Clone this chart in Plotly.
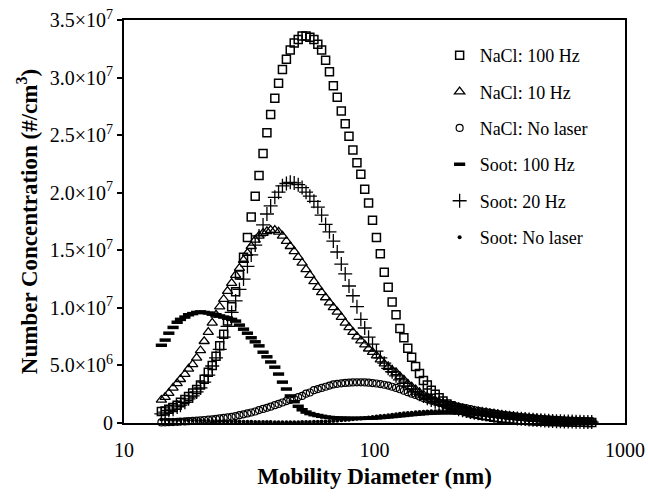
import plotly.graph_objects as go

# Mobility diameter channels (nm), 64 channels per decade
diameter_nm = [
    14.1, 14.6, 15.1, 15.7, 16.3, 16.8, 17.5, 18.1, 18.8, 19.5,
    20.2, 20.9, 21.7, 22.5, 23.3, 24.1, 25.0, 25.9, 26.9, 27.9,
    28.9, 30.0, 31.1, 32.2, 33.4, 34.6, 35.9, 37.2, 38.5, 40.0,
    41.4, 42.9, 44.5, 46.1, 47.8, 49.6, 51.4, 53.3, 55.2, 57.3,
    59.4, 61.5, 63.8, 66.1, 68.5, 71.0, 73.7, 76.4, 79.1, 82.0,
    85.1, 88.2, 91.4, 94.7, 98.2, 101.8, 105.5, 109.4, 113.4, 117.6,
    121.9, 126.3, 131.0, 135.8, 140.7, 145.9, 151.2, 156.8, 162.5, 168.5,
    174.7, 181.1, 187.7, 194.6, 201.7, 209.1, 216.7, 224.7, 232.9, 241.4,
    250.3, 259.5, 269.0, 278.8, 289.0, 299.6, 310.6, 322.0, 333.8, 346.0,
    358.7, 371.8, 385.4, 399.5, 414.2, 429.4, 445.1, 461.4, 478.3, 495.8,
    514.0, 532.8, 552.3, 572.5, 593.5, 615.3, 637.8, 661.2, 685.4, 710.5,
    736.5,
]

# Number concentrations in units of 10^6 #/cm3
nacl_100hz = [
    1.0, 1.05, 1.2, 1.35, 1.55, 1.8, 2.05, 2.3, 2.6, 2.9,
    3.3, 3.8, 4.4, 5.0, 5.8, 6.7, 7.7, 8.85, 10.1, 11.4,
    12.85, 14.4, 16.1, 17.9, 19.7, 21.5, 23.4, 25.2, 26.8, 28.2,
    29.5, 30.7, 31.6, 32.4, 33.0, 33.3, 33.6, 33.6, 33.5, 33.3,
    32.9, 32.4, 31.5, 30.5, 29.3, 28.3, 27.1, 26.0, 24.9, 23.7,
    22.6, 21.6, 20.3, 19.1, 17.6, 16.1, 14.7, 13.1, 11.8, 10.5,
    9.4, 8.2, 7.4, 6.5, 5.7, 4.9, 4.3, 3.7, 3.3, 2.85,
    2.5, 2.2, 1.9, 1.65, 1.5, 1.35, 1.2, 1.1, 1.0, 0.9,
    0.82, 0.75, 0.68, 0.62, 0.56, 0.5, 0.46, 0.42, 0.38, 0.35,
    0.32, 0.29, 0.26, 0.24, 0.22, 0.2, 0.18, 0.16, 0.15, 0.14,
    0.13, 0.12, 0.11, 0.1, 0.09, 0.08, 0.07, 0.06, 0.06, 0.05,
    0.05,
]

nacl_10hz = [
    2.0, 2.25, 2.6, 3.05, 3.45, 3.8, 4.25, 4.7, 5.1, 5.65,
    6.3, 7.1, 7.9, 8.7, 9.4, 10.1, 10.75, 11.45, 12.15, 12.85,
    13.45, 14.15, 14.75, 15.35, 15.9, 16.25, 16.5, 16.65, 16.75, 16.75,
    16.6, 16.25, 15.8, 15.35, 14.9, 14.4, 13.9, 13.35, 12.85, 12.3,
    11.8, 11.35, 10.9, 10.45, 10.05, 9.65, 9.2, 8.7, 8.3, 7.9,
    7.5, 7.15, 6.8, 6.45, 6.15, 5.85, 5.5, 5.15, 4.85, 4.6,
    4.4, 4.05, 3.75, 3.4, 3.15, 2.9, 2.65, 2.45, 2.25, 2.1,
    1.95, 1.8, 1.65, 1.5, 1.4, 1.3, 1.22, 1.15, 1.1, 1.0,
    0.95, 0.9, 0.87, 0.83, 0.78, 0.74, 0.7, 0.66, 0.62, 0.58,
    0.54, 0.5, 0.46, 0.43, 0.4, 0.37, 0.34, 0.31, 0.28, 0.26,
    0.24, 0.22, 0.2, 0.18, 0.16, 0.15, 0.14, 0.13, 0.12, 0.11,
    0.1,
]

nacl_no_laser = [
    0.05, 0.06, 0.07, 0.08, 0.1, 0.12, 0.14, 0.16, 0.18, 0.2,
    0.23, 0.26, 0.29, 0.32, 0.36, 0.4, 0.44, 0.49, 0.54, 0.6,
    0.68, 0.75, 0.83, 0.91, 1.0, 1.12, 1.22, 1.32, 1.42, 1.55,
    1.66, 1.78, 1.9, 2.0, 2.1, 2.25, 2.35, 2.55, 2.65, 2.85,
    2.95, 3.05, 3.15, 3.25, 3.35, 3.4, 3.45, 3.48, 3.5, 3.52,
    3.53, 3.53, 3.52, 3.5, 3.47, 3.43, 3.38, 3.32, 3.25, 3.15,
    3.05, 2.93, 2.8, 2.68, 2.55, 2.43, 2.3, 2.18, 2.06, 1.95,
    1.85, 1.77, 1.69, 1.61, 1.54, 1.47, 1.4, 1.34, 1.28, 1.2,
    1.13, 1.06, 1.0, 0.94, 0.88, 0.83, 0.78, 0.73, 0.68, 0.64,
    0.6, 0.56, 0.52, 0.48, 0.45, 0.42, 0.39, 0.36, 0.33, 0.31,
    0.29, 0.27, 0.25, 0.23, 0.21, 0.2, 0.19, 0.18, 0.17, 0.16,
    0.15,
]

soot_100hz = [
    6.75, 7.2, 7.8, 8.3, 8.75, 9.0, 9.2, 9.4, 9.5, 9.6,
    9.65, 9.6, 9.55, 9.45, 9.4, 9.3, 9.2, 9.1, 9.0, 8.85,
    8.5, 8.15, 7.8, 7.4, 7.05, 6.7, 6.15, 5.75, 5.3, 4.85,
    4.25, 3.55, 2.95, 2.35, 1.85, 1.45, 1.15, 0.95, 0.82, 0.72,
    0.65, 0.58, 0.52, 0.48, 0.45, 0.43, 0.42, 0.41, 0.4, 0.4,
    0.4, 0.4, 0.41, 0.42, 0.43, 0.45, 0.47, 0.5, 0.53, 0.56,
    0.6, 0.63, 0.66, 0.7, 0.73, 0.76, 0.79, 0.82, 0.84, 0.86,
    0.88, 0.89, 0.9, 0.9, 0.9, 0.89, 0.88, 0.86, 0.84, 0.81,
    0.78, 0.75, 0.72, 0.68, 0.64, 0.6, 0.56, 0.52, 0.48, 0.44,
    0.41, 0.38, 0.35, 0.32, 0.29, 0.27, 0.25, 0.23, 0.21, 0.19,
    0.17, 0.16, 0.15, 0.14, 0.13, 0.12, 0.11, 0.1, 0.09, 0.08,
    0.08,
]

soot_20hz = [
    0.8, 0.95, 1.1, 1.2, 1.4, 1.55, 1.8, 2.1, 2.35, 2.7,
    3.05, 3.55, 4.15, 4.95, 5.65, 6.4, 7.45, 8.4, 9.6, 10.6,
    11.6, 12.5, 13.6, 14.6, 15.45, 16.25, 17.2, 18.15, 18.85, 19.6,
    20.05, 20.6, 20.8, 20.9, 20.85, 20.7, 20.45, 20.05, 19.7, 19.25,
    18.75, 18.05, 17.25, 16.6, 15.8, 14.85, 13.8, 12.95, 11.9, 11.05,
    10.1, 9.0, 8.25, 7.45, 6.85, 6.25, 5.65, 5.2, 4.75, 4.45,
    4.1, 3.75, 3.45, 3.2, 2.95, 2.7, 2.5, 2.35, 2.15, 2.0,
    1.85, 1.75, 1.6, 1.5, 1.4, 1.3, 1.2, 1.1, 1.05, 0.95,
    0.9, 0.85, 0.8, 0.75, 0.7, 0.65, 0.6, 0.55, 0.5, 0.46,
    0.43, 0.4, 0.37, 0.34, 0.31, 0.28, 0.26, 0.24, 0.22, 0.2,
    0.18, 0.16, 0.15, 0.14, 0.13, 0.12, 0.11, 0.1, 0.09, 0.08,
    0.08,
]

soot_no_laser = [
    0.3, 0.3, 0.29, 0.28, 0.27, 0.26, 0.25, 0.24, 0.23, 0.22,
    0.21, 0.2, 0.19, 0.18, 0.17, 0.16, 0.15, 0.14, 0.13, 0.12,
    0.12, 0.11, 0.1, 0.1, 0.09, 0.09, 0.08, 0.08, 0.08, 0.07,
    0.07, 0.07, 0.07, 0.07, 0.07, 0.07, 0.08, 0.08, 0.09, 0.1,
    0.11, 0.12, 0.14, 0.16, 0.18, 0.2, 0.23, 0.26, 0.29, 0.32,
    0.36, 0.4, 0.44, 0.48, 0.52, 0.56, 0.6, 0.64, 0.68, 0.72,
    0.76, 0.8, 0.84, 0.87, 0.9, 0.93, 0.96, 0.98, 1.0, 1.02,
    1.03, 1.04, 1.05, 1.05, 1.05, 1.04, 1.03, 1.01, 0.99, 0.96,
    0.93, 0.9, 0.86, 0.82, 0.78, 0.74, 0.7, 0.66, 0.62, 0.58,
    0.54, 0.5, 0.46, 0.43, 0.4, 0.37, 0.34, 0.31, 0.28, 0.26,
    0.24, 0.22, 0.2, 0.18, 0.16, 0.15, 0.14, 0.13, 0.12, 0.11,
    0.1,
]

y_tick_values = [0, 5, 10, 15, 20, 25, 30, 35]
y_tick_labels = ["0", "5.0×10<sup>6</sup>", "1.0×10<sup>7</sup>", "1.5×10<sup>7</sup>",
                 "2.0×10<sup>7</sup>", "2.5×10<sup>7</sup>", "3.0×10<sup>7</sup>",
                 "3.5×10<sup>7</sup>"]
x_tick_values = [10, 100, 1000]
x_tick_labels = ["10", "100", "1000"]

series_names = ["NaCl: 100 Hz", "NaCl: 10 Hz", "NaCl: No laser",
                "Soot: 100 Hz", "Soot: 20 Hz", "Soot: No laser"]
series_values = [nacl_100hz, nacl_10hz, nacl_no_laser, soot_100hz, soot_20hz, soot_no_laser]

marker_styles = [
    dict(symbol="square-open", size=8, color="black", line=dict(width=1.5, color="black")),
    dict(symbol="triangle-up-open", size=9, color="black", line=dict(width=1.3, color="black")),
    dict(symbol="circle-open", size=7, color="black", line=dict(width=1.2, color="black")),
    dict(symbol="line-ew-open", size=8, color="black", line=dict(width=3.5, color="black")),
    dict(symbol="cross-thin-open", size=10, color="black", line=dict(width=1.3, color="black")),
    dict(symbol="circle", size=4, color="black", line=dict(width=0, color="black")),
]

FONT = "Liberation Serif"

fig = go.Figure()
for k, (name, vals, mk) in enumerate(zip(series_names, series_values, marker_styles)):
    fig.add_trace(go.Scatter(
        x=diameter_nm, y=vals, mode="markers", name=name,
        marker=mk, cliponaxis=False, legendgroup=f"g{k}",
    ))

fig.update_layout(
    width=648, height=500,
    margin=dict(l=124, r=23, t=20, b=77),
    paper_bgcolor="white", plot_bgcolor="white",
    font=dict(family=FONT, size=20, color="black"),
    showlegend=True,
    legend=dict(
        x=0.63, y=0.958, xanchor="left", yanchor="top",
        bgcolor="rgba(0,0,0,0)", borderwidth=0,
        font=dict(family=FONT, size=18, color="black"),
        tracegroupgap=10,
    ),
    xaxis=dict(
        type="log", range=[1, 3], automargin=False,
        tickvals=x_tick_values, ticktext=x_tick_labels,
        ticks="", showgrid=False, zeroline=False,
        showline=True, linecolor="black", linewidth=2, mirror=True,
        ticklabelstandoff=8,
        tickfont=dict(family=FONT, size=20),
        title=dict(text="<b>Mobility Diameter (nm)</b>", font=dict(family=FONT, size=23), standoff=8),
    ),
    yaxis=dict(
        range=[0, 35], automargin=False,
        tickvals=y_tick_values, ticktext=y_tick_labels,
        ticks="outside", ticklen=5, tickwidth=1.5, tickcolor="black",
        showgrid=False, zeroline=False,
        showline=True, linecolor="black", linewidth=2, mirror=True,
        tickfont=dict(family=FONT, size=20),
        title=dict(text="<b>Number Concentration (#/cm<sup>3</sup>)</b>", font=dict(family=FONT, size=23), standoff=6),
    ),
)

fig.write_html("out.html", config={"displayModeBar": False},
               post_script="document.body.style.margin='0px';")
